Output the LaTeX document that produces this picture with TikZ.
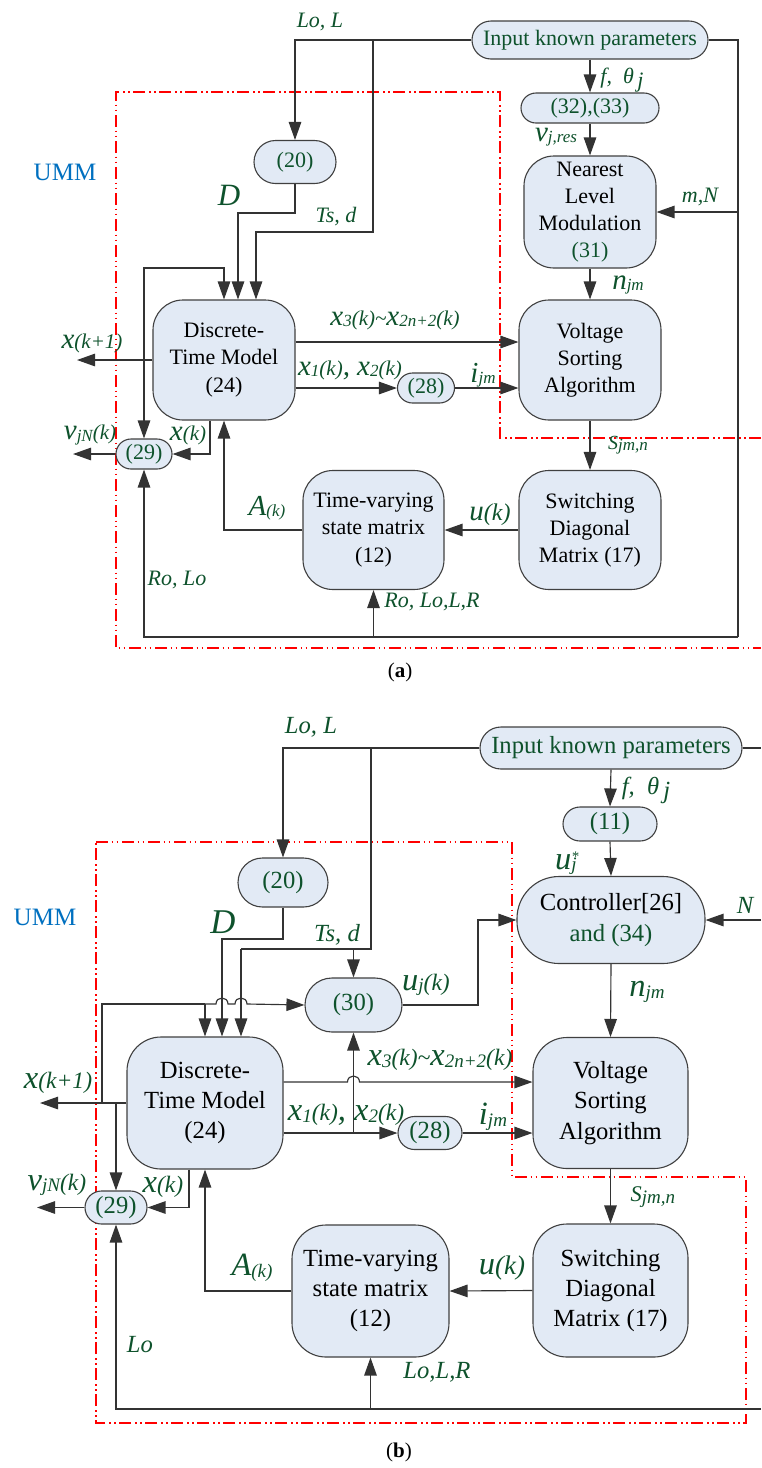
\documentclass[tikz,border=0pt]{standalone}
\usepackage{fontspec}
\setmainfont{Liberation Serif}
\usetikzlibrary{arrows.meta,shapes.misc}
\definecolor{lgreen}{RGB}{14,82,44}
\definecolor{ummblue}{RGB}{0,112,192}
\definecolor{boxfill}{RGB}{226,234,245}
\definecolor{umred}{RGB}{255,0,0}
\def\pscale{1}
% sizes scale with the panel
\newcommand\fsz[1]{\fontsize{\fpeval{(#1)*\pscale}}{\fpeval{(#1)*\pscale*1.23}}\selectfont}
\newcommand\bv[1]{{\fsz{29}#1}}
\newcommand\sv[1]{\raisebox{-1.5pt}{\fsz{17}#1}}
\newcommand\mv[1]{{\fsz{21}#1}}
\tikzset{
  conn/.style={draw=black!80, line width=1.15pt},
  arr/.style={conn, -{Triangle[length=18pt,width=12.5pt]}},
  box/.style={draw=black!75, fill=boxfill, line width=1.1pt, rounded corners=30pt,
              align=center, inner sep=0pt, text=black, font=\fsz{22}},
  pill/.style={rounded rectangle, draw=black!75, fill=boxfill, line width=1.1pt,
               inner sep=0pt, text=lgreen, font=\fsz{22}},
  lab/.style={text=lgreen, font=\fsz{22}\itshape, inner sep=0pt},
  umm/.style={text=ummblue, font=\fontsize{25}{30}\selectfont, inner sep=0pt},
  frame/.style={draw=umred, line width=1.8pt,
                dash pattern=on 12pt off 3.5pt on 1.5pt off 3.5pt on 1.5pt off 4pt},
}
\begin{document}
\begin{tikzpicture}[x=1pt,y=-1pt]
\useasboundingbox (0,0) rectangle (761,1468);
\fill[white] (0,0) rectangle (761,1468);

%================ panel (a) ================
\begin{scope}
\def\pscale{1}
\draw[frame] (761,438) -- (500,438) -- (500,92) -- (116,92) -- (116,648) -- (761,648);

\node[pill, minimum width=236pt, minimum height=38pt] (ikpA) at (590,40) {Input known parameters};
\node[pill, minimum width=138pt, minimum height=30pt] (p3233) at (590,108) {(32),(33)};
\node[box, minimum width=132pt, minimum height=112pt] (nlm) at (590,212) {Nearest\\Level\\Modulation\\\textcolor{lgreen}{(31)}};
\node[box, minimum width=142pt, minimum height=120pt] (vsaA) at (590,360) {Voltage\\Sorting\\Algorithm};
\node[box, minimum width=142pt, minimum height=119pt] (sdmA) at (590,530) {Switching\\Diagonal\\Matrix (17)};
\node[box, minimum width=141pt, minimum height=119pt] (tvsA) at (373.5,530) {Time-varying\\state matrix\\(12)};
\node[box, minimum width=142pt, minimum height=120pt] (dtmA) at (224,360) {Discrete-\\Time Model\\(24)};
\node[pill, minimum width=82pt, minimum height=43pt] (p20A) at (295,162) {(20)};
\node[pill, minimum width=57pt, minimum height=30pt] (p28A) at (426,388) {(28)};
\node[pill, minimum width=56pt, minimum height=30pt] (p29A) at (144,454) {(29)};

\coordinate (tA) at (373,40);
\coordinate (tsA) at (256,232);
\coordinate (dA) at (238,213);
\coordinate (fbA) at (144,360);
\coordinate (fbtA) at (144,268);
\coordinate (xk1A) at (77,360);
\coordinate (xkA) at (210,454);
\coordinate (vjA) at (73,454);
\coordinate (brA) at (738,637);

\draw[arr] (ikpA.west) -| (p20A.north);
\draw[arr] (tA) |- (tsA) -- (tsA |- dtmA.north);
\draw[arr] (p20A.south) |- (dA) -- (dA |- dtmA.north);
\draw[arr] (fbA) -- (fbtA) -| (dtmA.north);
\draw[arr] (fbA) -- (p29A.north);
\draw[arr] (dtmA.west) -- (xk1A);
\draw[arr] ([yshift=18pt]dtmA.east) -- ([yshift=18pt]vsaA.west);
\draw[arr] ([yshift=-28pt]dtmA.east) -- (p28A.west);
\draw[arr] (p28A.east) -- (vsaA.west |- p28A.east);
\draw[arr] (dtmA.south -| xkA) -- (xkA) -- (p29A.east);
\draw[arr] (p29A.west) -- (vjA);
\draw[arr] (tvsA.west) -| (dtmA.south);
\draw[arr] (sdmA.west) -- (tvsA.east);
\draw[arr] (vsaA.south) -- (sdmA.north);
\draw[arr] (nlm.south) -- (vsaA.north);
\draw[arr] (p3233.south) -- (nlm.north);
\draw[arr] (ikpA.south) -- (p3233.north);
\draw[conn] (ikpA.east) -| (brA);
\draw[arr] (brA) -| (p29A.south);
\draw[arr] (tvsA.south |- brA) -- (tvsA.south);
\draw[arr] (nlm.east -| brA) -- (nlm.east);

\node[lab] (lLoA) at (320,22) {Lo, L};
\node[lab] (lfA) at (622,80) {f,\ \ θ\raisebox{-4pt}{\,j}};
\node[lab] (lvrA) at (556,137) {\bv{v}\sv{j,res}};
\node[lab] (lmnA) at (700,197) {m,N};
\node[umm] (ummA) at (65,172) {UMM};
\node[lab] (lDA) at (229,195) {{\fsz{31}D}};
\node[lab] (lTsA) at (336,217) {Ts, d};
\node[lab] (lnA) at (628,285) {\bv{n}\sv{jm}};
\node[lab] (lx3A) at (395,320) {\bv{x}\sv{3}\mv{(k)}\mv{\textasciitilde}\bv{x}\sv{2n+2}\mv{(k)}};
\node[lab] (lxk1A) at (92,343) {\bv{x}\mv{(k+1)}};
\node[lab] (lx1A) at (350,370) {\bv{x}\sv{1}\mv{(k)}\bv{, x}\sv{2}\mv{(k)}};
\node[lab] (liA) at (483,375) {\bv{i}\sv{jm}};
\node[lab] (lxkA) at (188,435) {\bv{x}\mv{(k)}};
\node[lab] (lvjA) at (90,435) {\bv{v}\sv{jN}\mv{(k)}};
\node[lab] (lSA) at (628,445) {{\fsz{20}S}\sv{jm,n}};
\node[lab] (lAA) at (267,508) {\bv{A}\sv{(k)}};
\node[lab] (luA) at (490,515) {\bv{u}{\fsz{24}(k)}};
\node[lab] (lRoA) at (177,580) {Ro, Lo};
\node[lab] (lRLA) at (432,602) {Ro, Lo,L,R};
\node[font=\fsz{21}, inner sep=0pt] (capA) at (400,672) {(\textbf{a})};
\end{scope}

%================ panel (b) ================
\begin{scope}
\def\pscale{1.12}
\draw[frame] (96,842) -- (512,842) -- (512,1177) -- (746,1177) -- (746,1423) -- (96,1423) -- cycle;

\node[pill, minimum width=262pt, minimum height=42pt] (ikpB) at (611,748) {Input known parameters};
\node[pill, minimum width=94pt, minimum height=34pt] (p11) at (610,824) {(11)};
\node[box, rounded corners=42pt, minimum width=188pt, minimum height=87pt] (ctrl) at (611,920) {Controller[26]\\\textcolor{lgreen}{and (34)}};
\node[box, rounded corners=34pt, minimum width=155pt, minimum height=131pt] (vsaB) at (610.5,1103) {Voltage\\Sorting\\Algorithm};
\node[box, rounded corners=34pt, minimum width=155pt, minimum height=133pt] (sdmB) at (610.5,1290.5) {Switching\\Diagonal\\Matrix (17)};
\node[box, rounded corners=34pt, minimum width=157pt, minimum height=132pt] (tvsB) at (370.5,1291) {Time-varying\\state matrix\\(12)};
\node[box, rounded corners=34pt, minimum width=156pt, minimum height=132pt] (dtmB) at (205,1103) {Discrete-\\Time Model\\(24)};
\node[pill, minimum width=90pt, minimum height=49pt] (p20B) at (283,882.5) {(20)};
\node[pill, minimum width=97pt, minimum height=54pt] (p30) at (353.5,1005) {(30)};
\node[pill, minimum width=64pt, minimum height=33pt] (p28B) at (430,1133) {(28)};
\node[pill, minimum width=62pt, minimum height=33pt] (p29B) at (116,1207.5) {(29)};

\coordinate (tB) at (371,748);
\coordinate (tsB) at (241,949);
\coordinate (dB) at (222,939);
\coordinate (fbB) at (102,1103);
\coordinate (fbtB) at (102,1004);
\coordinate (hopB) at (205,1004);
\coordinate (jB) at (353.5,1133);
\coordinate (ujB) at (478,1005);
\coordinate (xk1B) at (40,1103);
\coordinate (fb2B) at (116,1103);
\coordinate (xkB) at (189,1207.5);
\coordinate (vjB) at (37,1207.5);
\coordinate (botR) at (761,1409);
\coordinate (botL) at (116,1409);
\coordinate (nR) at (761,920);
\coordinate (ikR) at (761,748);

\draw[arr] (ikpB.west) -| (p20B.north);
\draw[conn] (ikpB.east) -- (ikR);
\draw[conn] (tB) |- (tsB);
\draw[arr] (tsB) -- (tsB |- dtmB.north);
\draw[arr] (p30.north |- tsB) -- (p30.north);
\draw[arr] (p20B.south) |- (dB) -- (dB |- dtmB.north);
\draw[conn] (fbB) -- (fbtB) -- (hopB);
\draw[arr] (hopB) -- (hopB |- dtmB.north);
\draw[arr] (hopB) -- (216,1004) .. controls (216,996) and (228,996) .. (228,1004)
   -- (235,1004) .. controls (235,996) and (247,996) .. (247,1004) -- (p30.west);
\draw[arr] ([yshift=21pt]dtmB.east) -- (347.5,1082) .. controls (347.5,1074) and (359.5,1074) .. (359.5,1082)
   -- ([yshift=21pt]vsaB.west);
\draw[arr] ([yshift=-30pt]dtmB.east) -- (p28B.west);
\draw[arr] (jB) -- (p30.south);
\draw[arr] (p28B.east) -- (vsaB.west |- p28B.east);
\draw[arr] (p30.east) -- (ujB) |- (ctrl.west);
\draw[arr] (ikpB.south) -- (p11.north);
\draw[arr] (p11.south) -- (ctrl.north);
\draw[arr] (ctrl.south) -- (vsaB.north);
\draw[arr] (vsaB.south) -- (sdmB.north);
\draw[arr] (sdmB.west) -- (tvsB.east);
\draw[arr] (tvsB.west) -| (dtmB.south);
\draw[arr] (dtmB.west) -- (xk1B);
\draw[arr] (fb2B) -- (p29B.north);
\draw[arr] (dtmB.south -| xkB) -- (xkB) -- (p29B.east);
\draw[arr] (p29B.west) -- (vjB);
\draw[arr] (botR) -- (botL) -- (p29B.south);
\draw[arr] (tvsB.south |- botL) -- (tvsB.south);
\draw[arr] (nR) -- (ctrl.east);

\node[lab] (lLoB) at (311,727) {Lo, L};
\node[lab] (lfB) at (646,790) {f,\ \ θ\raisebox{-4pt}{\,j}};
\node[lab] (lusB) at (566,863) {\bv{u}\makebox[0pt][l]{\raisebox{8pt}{\fsz{13}*}}\sv{j}};
\node[lab] (lNB) at (745,905) {N};
\node[umm] (ummB) at (45,917) {UMM};
\node[lab] (lDB) at (223,922) {{\fsz{31}D}};
\node[lab] (lTsB) at (337,935) {Ts, d};
\node[lab] (lujB) at (426,985) {\bv{u}\sv{j}\mv{(k)}};
\node[lab] (lnB) at (647,992) {\bv{n}\sv{jm}};
\node[lab] (lx3B) at (440,1060) {\bv{x}\sv{3}\mv{(k)}\mv{\textasciitilde}\bv{x}\sv{2n+2}\mv{(k)}};
\node[lab] (lxk1B) at (58,1083) {\bv{x}\mv{(k+1)}};
\node[lab] (lx1B) at (346,1115) {\bv{x}\sv{1}\mv{(k)}\bv{, x}\sv{2}\mv{(k)}};
\node[lab] (liB) at (493,1117) {\bv{i}\sv{jm}};
\node[lab] (lSB) at (653,1197) {{\fsz{20}S}\sv{jm,n}};
\node[lab] (lxkB) at (163,1187) {\bv{x}\mv{(k)}};
\node[lab] (lvjB) at (57,1185) {\bv{v}\sv{jN}\mv{(k)}};
\node[lab] (luB) at (502,1268) {\bv{u}{\fsz{24}(k)}};
\node[lab] (lAB) at (252,1268) {\bv{A}\sv{(k)}};
\node[lab] (lLo2B) at (140,1345) {Lo};
\node[lab] (lLLRB) at (437,1372) {Lo,L,R};
\end{scope}
\node[font=\fontsize{21}{25}\selectfont, inner sep=0pt] (capB) at (399,1452) {(\textbf{b})};
\end{tikzpicture}
\end{document}
